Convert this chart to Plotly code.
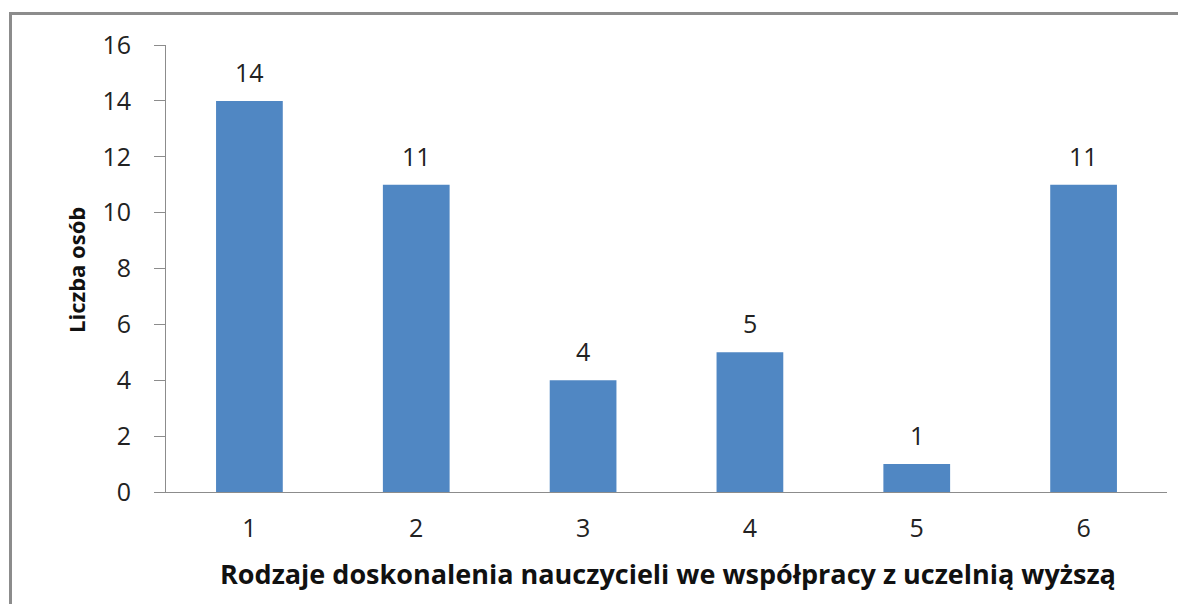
import plotly.graph_objects as go

categories = ["1", "2", "3", "4", "5", "6"]
values = [14, 11, 4, 5, 1, 11]
y_ticks = [0, 2, 4, 6, 8, 10, 12, 14, 16]
x_title = "Rodzaje doskonalenia nauczycieli we współpracy z uczelnią wyższą"
y_title = "Liczba osób"

FONT = "Open Sans"
# page body has an 8px margin; figure sized/positioned to compensate
W, H = 1170, 596
L, T = 158, 37
R = W - (1167 - 8)
B = H - (492 - 8)
pw, ph = W - L - R, H - T - B

def px(xpage):
    return (xpage - 8 - L) / pw

def py(ypage):
    return (H - B - (ypage - 8)) / ph

fig = go.Figure()
fig.add_trace(go.Bar(x=categories, y=values, marker=dict(color="#5087C3", line=dict(width=0)),
                     width=0.4))
for i, v in enumerate(values):
    fig.add_annotation(x=i, y=v, text=str(v), showarrow=False, yshift=29,
                       font=dict(family=FONT, size=25, color="#222"))
fig.add_annotation(xref="paper", yref="paper", x=px(668), y=py(573), text="<b>%s</b>" % x_title,
                   showarrow=False, font=dict(family=FONT, size=27, color="#111"),
                   xanchor="center", yanchor="middle")
fig.add_annotation(xref="paper", yref="paper", x=px(76), y=py(270), text="<b>%s</b>" % y_title,
                   textangle=-90, showarrow=False, font=dict(family=FONT, size=22, color="#111"),
                   xanchor="center", yanchor="middle")
fig.add_shape(type="rect", xref="paper", yref="paper", x0=px(10.5), y0=py(13.5), x1=px(1250), y1=py(700),
              line=dict(color="#8c8c8c", width=3))
fig.update_layout(
    width=W, height=H, margin=dict(l=L, r=R, t=T, b=B),
    plot_bgcolor="white", paper_bgcolor="white", showlegend=False,
    xaxis=dict(type="category", showline=True, linecolor="#8c8c8c", linewidth=1, ticks="",
               showgrid=False, automargin=False,
               tickfont=dict(family=FONT, size=25, color="#222"), ticklabelstandoff=14),
    yaxis=dict(range=[0, 16], tickvals=y_ticks, showline=True, linecolor="#8c8c8c", linewidth=1,
               ticks="outside", ticklen=11, tickcolor="#8c8c8c", showgrid=False, zeroline=False,
               automargin=False,
               tickfont=dict(family=FONT, size=25, color="#222"), ticklabelstandoff=18),
)
fig.write_html("out.html")
